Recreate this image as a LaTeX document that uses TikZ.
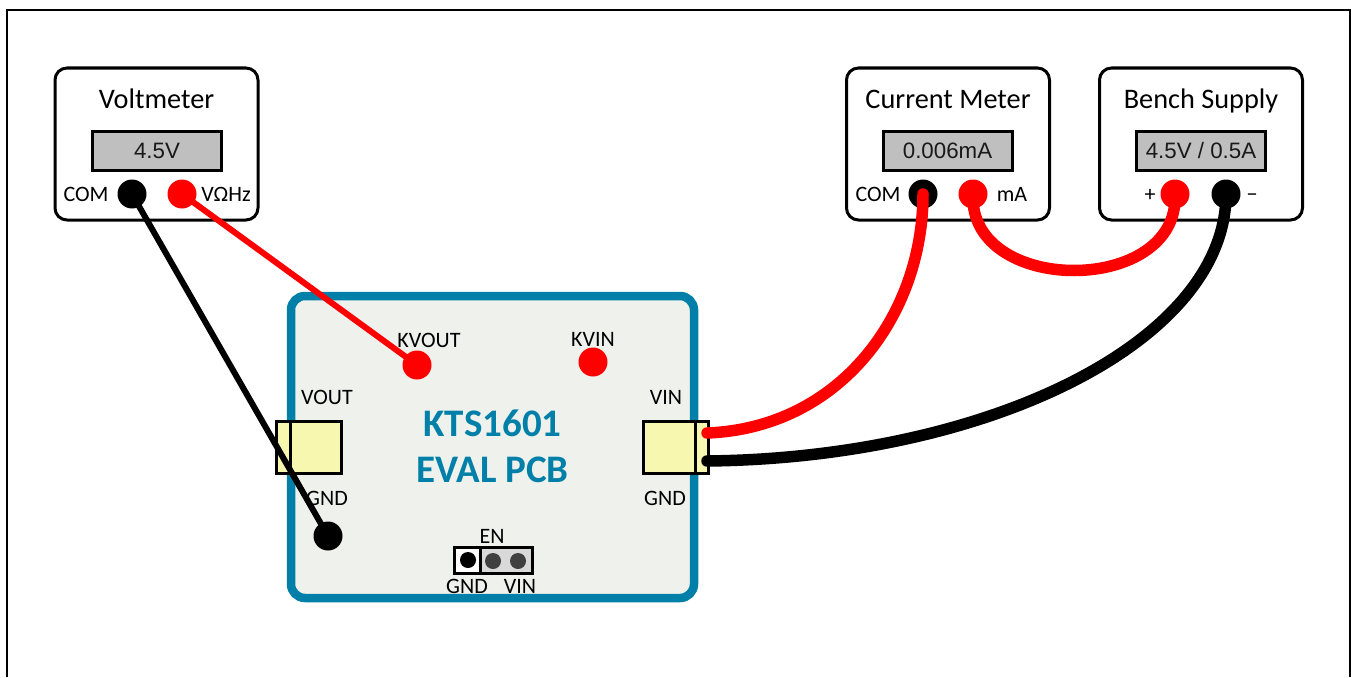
\documentclass[tikz,border=0pt]{standalone}
\usepackage{fontspec}
\setmainfont{Carlito}
\newfontfamily\readfont{Liberation Sans}
\definecolor{pcbblue}{HTML}{0080A8}
\definecolor{pcbfill}{HTML}{EEF1EC}
\definecolor{padfill}{HTML}{F7F7B0}
\definecolor{lcdfill}{HTML}{BFBFBF}
\definecolor{jumpfill}{HTML}{D9D9D9}
\definecolor{jumpdot}{HTML}{404040}
\tikzset{
  meterbox/.style={draw=black, fill=white, line width=3pt, rounded corners=12pt, minimum width=203pt, minimum height=152pt, outer sep=0pt},
  lcdbox/.style={draw=black, fill=lcdfill, line width=3pt, minimum width=129pt, minimum height=39pt, outer sep=0pt, font=\readfont\fontsize{22.3}{26}\selectfont, text=black!90},
  titletext/.style={font=\fontsize{28.3}{32}\selectfont, text height=17pt, text depth=5pt, inner sep=0pt},
  labeltext/.style={font=\fontsize{22}{26}\selectfont, text height=13pt, text depth=0pt, inner sep=0pt},
  pcbtext/.style={font=\bfseries\fontsize{39}{44}\selectfont, text=pcbblue, text height=23pt, text depth=0pt, inner sep=0pt},
  terminal/.style={circle, fill=#1, minimum size=29pt, inner sep=0pt, outer sep=0pt},
  padbox/.style={draw=black, fill=padfill, line width=3pt, minimum width=65pt, minimum height=52pt, outer sep=0pt},
  jumpdotnode/.style={circle, fill=#1, minimum size=16pt, inner sep=0pt, outer sep=0pt},
  wire/.style={draw=#1, line width=6pt},
  bigwire/.style={draw=#1, line width=11.5pt, line cap=round},
}
\begin{document}
\begin{tikzpicture}[x=1pt, y=-1pt]
  \useasboundingbox (0,0) rectangle (1351,677);

  % outer frame, open at the bottom
  \coordinate (frameA) at (7,677);
  \coordinate (frameB) at (7,10);
  \coordinate (frameC) at (1350,10);
  \coordinate (frameD) at (1350,677);
  \draw[line width=2pt] (frameA) -- (frameB) -- (frameC) -- (frameD);

  % meters
  \foreach \boxname/\title/\reading/\x/\lcdx in {
      volt/Voltmeter/4.5V/156.5/157,
      curr/Current Meter/0.006mA/948/947.5,
      bench/Bench Supply/{4.5V / 0.5A}/1201/1201} {
    \node[meterbox] (\boxname) at (\x,144) {};
    \node[titletext] (\boxname title) at (\x,102) {\title};
    \node[lcdbox] (\boxname lcd) at (\lcdx,150.5) {\reading};
  }

  % board
  \node[draw=pcbblue, fill=pcbfill, line width=8.5pt, rounded corners=14pt, minimum width=403pt, minimum height=302pt, outer sep=0pt] (pcb) at (492.5,447) {};
  \node[pcbtext] (pcbname) at (492.5,424.5) {KTS1601};
  \node[pcbtext] (pcbeval) at (492.5,470.5) {EVAL PCB};

  % power pads
  \node[padbox] (voutpad) at (309,447) {};
  \node[padbox] (vinpad) at (675.5,447) {};
  \coordinate (voutA) at (290,421);
  \coordinate (voutB) at (290,473);
  \coordinate (vinA) at (695,421);
  \coordinate (vinB) at (695,473);
  \draw[line width=3pt] (voutA) -- (voutB);
  \draw[line width=3pt] (vinA) -- (vinB);

  % board labels
  \foreach \name/\a/\x/\y in {
      lblkvout/KVOUT/429/340.5, lblkvin/KVIN/593/339.5,
      lblvout/VOUT/327/397.5, lblgndl/GND/327/498.5,
      lblvin/VIN/666/397.5, lblgndr/GND/665/498.5,
      lblen/EN/492/536.5, lbljgnd/GND/467/586.5, lbljvin/VIN/520/586.5} {
    \node[labeltext] (\name) at (\x,\y) {\a};
  }

  % meter labels
  \foreach \name/\a/\x in {
      lblvcom/COM/86, lblvohm/VΩHz/226,
      lblccom/COM/878, lblcma/mA/1012,
      lblplus/+/1150, lblminus/−/1252} {
    \node[labeltext] (\name) at (\x,194.5) {\a};
  }

  % enable jumper
  \node[draw=black, fill=white, line width=3pt, minimum width=26pt, minimum height=26pt, outer sep=0pt] (jumpgnd) at (467,560.5) {};
  \node[draw=black, fill=jumpfill, line width=3pt, minimum width=52pt, minimum height=26pt, outer sep=0pt] (jumpvin) at (506,560.5) {};
  \node[jumpdotnode=black] (dotgnd) at (468,560) {};
  \node[jumpdotnode=jumpdot] (dotmid) at (493,561) {};
  \node[jumpdotnode=jumpdot] (dotvin) at (518,561) {};

  % terminals
  \foreach \name/\col/\x/\y in {
      vcom/black/132/194, vohm/red/182/194,
      ccom/black/923/194, cma/red/973/194,
      bplus/red/1175/194, bminus/black/1226/194,
      kvout/red/417/365, kvin/red/593/362, tpgnd/black/328/536} {
    \node[terminal=\col] (\name) at (\x,\y) {};
  }

  % thin wires
  \draw[wire=black] (vcom.center) -- (tpgnd.center);
  \draw[wire=red] (vohm.center) -- (kvout.center);

  % thick wires
  \coordinate (vinred) at (707,433);
  \coordinate (vinblack) at (707,461);
  \draw[bigwire=black] (bminus.center) .. controls (1226,341) and (990,458) .. (vinblack);
  \draw[bigwire=red] (ccom.center) .. controls (923,315) and (840,428) .. (vinred);
  \draw[bigwire=red] (cma.center) .. controls (968,296) and (1180,296) .. (bplus.center);
\end{tikzpicture}
\end{document}
